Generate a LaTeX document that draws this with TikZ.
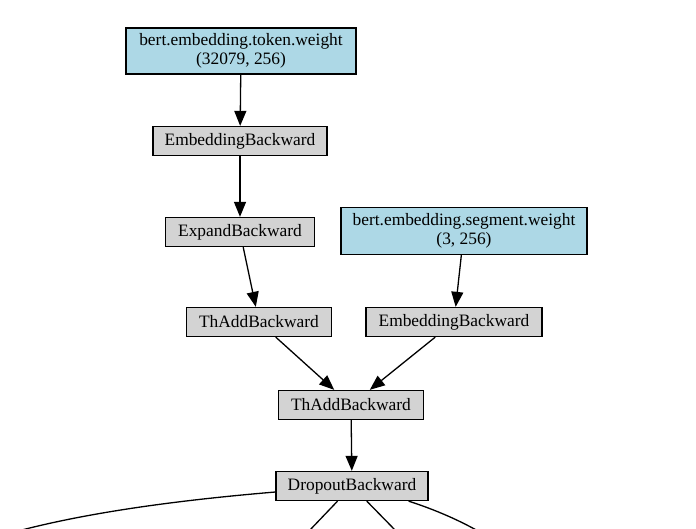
\documentclass[tikz,border=0pt]{standalone}
\usepackage{fontspec}
\setmainfont{Liberation Serif}
\usetikzlibrary{arrows.meta}
\definecolor{paramblue}{HTML}{ADD8E6}
\definecolor{opgray}{HTML}{D3D3D3}

\begin{document}
\begin{tikzpicture}[x=1pt, y=-1pt, line width=1.3pt,
    param/.style = {rectangle, draw=black, fill=paramblue, align=center,
      minimum height = 46pt, inner sep=2pt,
      font=\fontsize{17.4}{19}\selectfont},
    fn/.style = {rectangle, draw=black, fill=opgray, minimum height = 29pt,
      inner sep=2pt, font=\fontsize{17.4}{19}\selectfont},
    edge/.style = {-{Triangle[length=15pt, width=12pt]}}]
  \useasboundingbox (0, 0) rectangle (696, 528);
  \node[param, minimum width = 230pt] (tokw) at (241, 51)
    {bert.embedding.token.weight\\(32079, 256)};
  \node[fn, minimum width = 174pt] (emb1) at (240, 141) {EmbeddingBackward};
  \node[fn, minimum width = 149pt] (expand) at (240, 232) {ExpandBackward};
  \node[param, minimum width = 246pt, minimum height = 47pt] (segw) at (464, 231)
    {bert.embedding.segment.weight\\(3, 256)};
  \node[fn, minimum width = 145pt] (add1) at (259, 322) {ThAddBackward};
  \node[fn, minimum width = 176pt] (emb2) at (454, 322) {EmbeddingBackward};
  \node[fn, minimum width = 145pt] (add2) at (351, 405) {ThAddBackward};
  \node[fn, minimum width = 152pt] (drop) at (352, 486) {DropoutBackward};
  % edges leaving the picture
  \coordinate (o1) at (18, 531);
  \coordinate (o2) at (309, 531);
  \coordinate (o3) at (396, 531);
  \coordinate (o4) at (478, 531);
  \draw[edge] (tokw) -- (emb1);
  \draw[edge] (emb1) -- (expand);
  \draw[edge] (expand) -- (add1);
  \draw[edge] (segw) -- (emb2);
  \draw[edge] (add1) -- (add2);
  \draw[edge] (emb2) -- (add2);
  \draw[edge] (add2) -- (drop);
  \draw ([yshift=-6pt]drop.west) .. controls (180, 500) and (90, 512) .. (o1);
  \draw (drop) -- (o2);
  \draw (drop) -- (o3);
  \draw ([xshift=-20pt]drop.south east) .. controls (430, 508) and (455, 518) .. (o4);
\end{tikzpicture}
\end{document}
